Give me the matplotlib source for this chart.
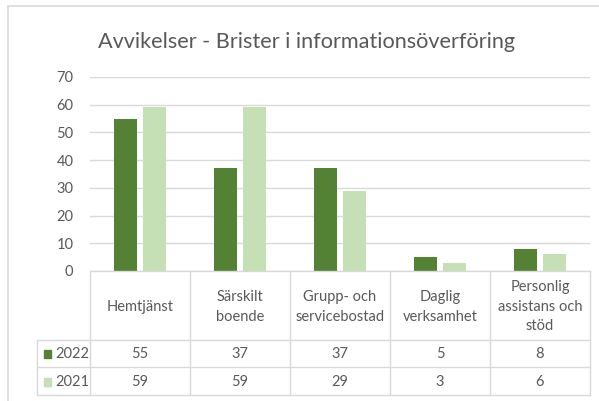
import matplotlib
matplotlib.use('Agg')
import matplotlib.pyplot as plt
from matplotlib.patches import Rectangle

categories = ['Hemtjänst', 'Särskilt\nboende', 'Grupp- och\nservicebostad', 'Daglig\nverksamhet',
              'Personlig\nassistans och\nstöd']
years = ['2022', '2021']
v2022 = [55, 37, 37, 5, 8]
v2021 = [59, 59, 29, 3, 6]
yticks = [0, 10, 20, 30, 40, 50, 60, 70]

dark = '#548235'
light = '#C5E0B4'
grid = '#D9D9D9'
txt = '#595959'

plt.rcParams['font.family'] = ['Lato', 'DejaVu Sans']

W, H = 599, 401
fig = plt.figure(figsize=(W / 100, H / 100), dpi=100)

def fx(px):
    return px / W

def fy(py):
    return (H - py) / H

# outer chart frame (only top and left edges are inside the picture)
fig.add_artist(Rectangle((fx(8), fy(420)), fx(620), (420 - 6) / H,
                         transform=fig.transFigure, fill=False, edgecolor=grid, lw=1.2))

# plot area
ax = fig.add_axes([fx(90), fy(271), fx(500), (271 - 77) / H])
x = list(range(len(categories)))
bw = 0.225
ax.bar([i - 0.143 for i in x], v2022, width=bw, color=dark, zorder=3)
ax.bar([i + 0.143 for i in x], v2021, width=bw, color=light, zorder=3)
ax.set_xlim(-0.5, len(categories) - 0.5)
ax.set_ylim(0, 70)
ax.set_yticks(yticks)
ax.set_yticklabels([str(t) for t in yticks], fontsize=10.5, color=txt)
ax.tick_params(axis='y', length=0, pad=12)
ax.set_xticks([])
for s in ax.spines.values():
    s.set_visible(False)
ax.grid(axis='y', color=grid, lw=1, zorder=0)

# data table below the plot
rows = [271, 340, 367, 395]
ta = fig.add_axes([fx(37), fy(395), fx(553), (395 - 271) / H])
ta.set_xlim(-0.5 - 0.53, len(categories) - 0.5)
ta.set_ylim(395, 271)
ta.axis('off')
lk = dict(color=grid, lw=1, clip_on=False)
ta.plot([-0.5, 4.5], [271, 271], **lk)
for r in rows[1:]:
    ta.plot([-1.03, 4.5], [r, r], **lk)
for i in range(len(categories) + 1):
    ta.plot([i - 0.5, i - 0.5], [271, 395], **lk)
ta.plot([-1.03, -1.03], [340, 395], **lk)

for i, c in enumerate(categories):
    ta.text(i, (rows[0] + rows[1]) / 2 + 1.5, c, ha='center', va='center', fontsize=10.5,
            color=txt, linespacing=1.5)
for r, (yr, vals, col) in enumerate(zip(years, [v2022, v2021], [dark, light])):
    yc = (rows[r + 1] + rows[r + 2]) / 2 + 0.5
    for i, v in enumerate(vals):
        ta.text(i, yc, str(v), ha='center', va='center', fontsize=10.5, color=txt)
    ta.add_patch(Rectangle((-0.96, yc - 4), 0.075, 8, color=col, clip_on=False))
    ta.text(-0.85, yc, yr, ha='left', va='center', fontsize=10.5, color=txt)

fig.text(fx(307), fy(42), 'Avvikelser - Brister i informationsöverföring', ha='center', va='center',
         fontsize=15.6, color=txt)

fig.savefig('out.png', dpi=100)
